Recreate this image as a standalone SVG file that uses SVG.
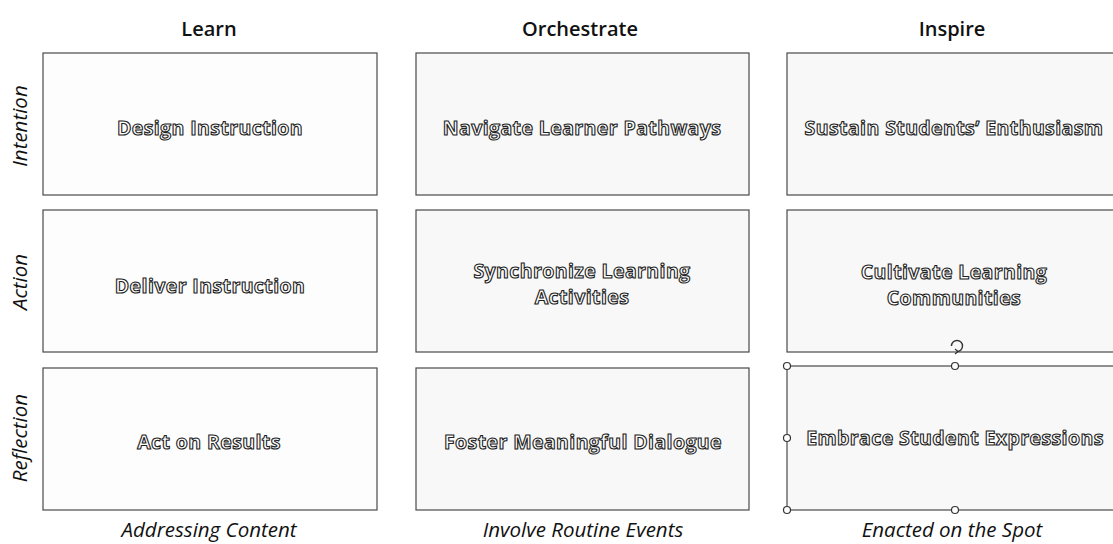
<svg xmlns="http://www.w3.org/2000/svg" width="1113" height="544" viewBox="0 0 1113 544">
  <style>
    .box { fill: #fdfdfd; stroke: #4a4a4a; stroke-width: 1.2; }
    .box2 { fill: #f8f8f8; stroke: #4a4a4a; stroke-width: 1.2; }
    .head { font-family: "Open Sans", "Liberation Sans", sans-serif; font-size: 20px; font-weight: 600; fill: #111; text-anchor: middle; }
    .side { font-family: "Open Sans", "Liberation Sans", sans-serif; font-size: 20.5px; font-style: italic; fill: #111; text-anchor: middle; }
    .lbl { font-family: "Open Sans", "Liberation Sans", sans-serif; font-size: 19.5px; font-weight: 700; fill: #ffffff; stroke: #222; stroke-width: 1.1; text-anchor: middle; letter-spacing: 0.4px; }
    .handle { fill: #ffffff; stroke: #333; stroke-width: 1.2; }
  </style>

  <g id="headers">
    <text class="head" x="209" y="36">Learn</text>
    <text class="head" x="580" y="36">Orchestrate</text>
    <text class="head" x="952" y="36">Inspire</text>
  </g>

  <g id="row-labels">
    <text class="side" transform="translate(27,126) rotate(-90)">Intention</text>
    <text class="side" transform="translate(27,282) rotate(-90)">Action</text>
    <text class="side" transform="translate(27,438) rotate(-90)">Reflection</text>
  </g>

  <g id="footers">
    <text class="side" x="209" y="537">Addressing Content</text>
    <text class="side" x="583" y="537">Involve Routine Events</text>
    <text class="side" x="952" y="537">Enacted on the Spot</text>
  </g>

  <g id="design-instruction">
    <rect class="box" x="43" y="53" width="334" height="142"/>
    <text class="lbl" x="210" y="135">Design Instruction</text>
  </g>
  <g id="navigate-learner-pathways">
    <rect class="box2" x="416" y="53" width="333" height="142"/>
    <text class="lbl" x="582" y="135">Navigate Learner Pathways</text>
  </g>
  <g id="sustain-students-enthusiasm">
    <rect class="box2" x="787" y="53" width="340" height="142"/>
    <text class="lbl" x="954" y="135">Sustain Students’ Enthusiasm</text>
  </g>

  <g id="deliver-instruction">
    <rect class="box" x="43" y="210" width="334" height="142"/>
    <text class="lbl" x="210" y="293">Deliver Instruction</text>
  </g>
  <g id="synchronize-learning-activities">
    <rect class="box2" x="416" y="210" width="333" height="142"/>
    <text class="lbl" x="582" y="278">Synchronize Learning</text>
    <text class="lbl" x="582" y="304">Activities</text>
  </g>
  <g id="cultivate-learning-communities">
    <rect class="box2" x="787" y="210" width="340" height="142"/>
    <text class="lbl" x="954" y="279">Cultivate Learning</text>
    <text class="lbl" x="954" y="305">Communities</text>
  </g>

  <g id="act-on-results">
    <rect class="box" x="43" y="368" width="334" height="142"/>
    <text class="lbl" x="209" y="449">Act on Results</text>
  </g>
  <g id="foster-meaningful-dialogue">
    <rect class="box2" x="416" y="368" width="333" height="142"/>
    <text class="lbl" x="583" y="449">Foster Meaningful Dialogue</text>
  </g>
  <g id="embrace-student-expressions">
    <rect class="box2" x="787" y="366" width="340" height="144"/>
    <text class="lbl" x="955" y="445">Embrace Student Expressions</text>
    <g id="selection-handles">
      <path d="M951.5,346 A5.5,5.5 0 1 1 957,351.5" fill="none" stroke="#333" stroke-width="1.4"/>
      <path d="M955,349 L958,351.5 L955,354" fill="none" stroke="#333" stroke-width="1.2"/>
      <circle class="handle" cx="787" cy="366" r="3.5"/>
      <circle class="handle" cx="955" cy="366" r="3.5"/>
      <circle class="handle" cx="787" cy="438" r="3.5"/>
      <circle class="handle" cx="787" cy="510" r="3.5"/>
      <circle class="handle" cx="955" cy="510" r="3.5"/>
    </g>
  </g>

  <g id="connectors"></g>
</svg>
